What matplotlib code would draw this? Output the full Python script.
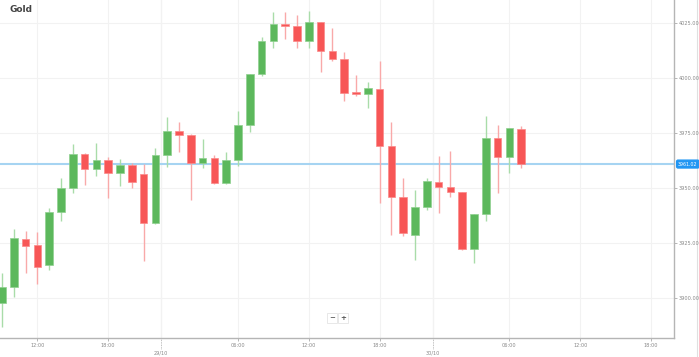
import numpy as np
import matplotlib.pyplot as plt
from matplotlib.transforms import blended_transform_factory

# hourly candles, Gold
opens = [3897.7, 3905.3, 3927.0, 3924.2, 3915.1, 3939.4, 3950.0, 3965.5, 3958.6, 3962.9,
         3957.1, 3960.5, 3956.4, 3934.4, 3965.1, 3976.2, 3974.1, 3961.4, 3963.9, 3952.3,
         3962.9, 3978.6, 4002.0, 4017.1, 4024.5, 4023.8, 4017.0, 4025.7, 4012.5, 4008.6,
         3993.5, 3992.7, 3995.1, 3969.4, 3945.9, 3928.9, 3941.6, 3953.0, 3950.5, 3948.4,
         3922.4, 3938.3, 3973.0, 3964.1, 3977.0]
highs = [3911.5, 3931.5, 3930.6, 3930.3, 3940.9, 3954.5, 3970.0, 3965.9, 3970.7, 3964.4,
         3963.2, 3961.4, 3961.0, 3968.5, 3982.5, 3980.1, 3974.7, 3972.4, 3965.1, 3966.6,
         3985.3, 4002.0, 4018.9, 4030.0, 4030.0, 4028.8, 4030.6, 4025.7, 4022.7, 4012.1,
         4001.5, 3998.5, 4007.9, 3980.0, 3954.8, 3949.2, 3954.5, 3964.8, 3967.0, 3948.4,
         3938.3, 3982.9, 3978.8, 3977.3, 3978.3]
lows = [3887.0, 3900.7, 3911.6, 3906.5, 3912.9, 3935.3, 3947.7, 3951.5, 3955.7, 3945.7,
        3951.2, 3950.0, 3917.0, 3934.0, 3959.5, 3966.6, 3944.7, 3959.1, 3952.0, 3952.0,
        3960.3, 3975.7, 4001.0, 4013.9, 4017.7, 4013.9, 4013.9, 4003.0, 4007.9, 3989.8,
        3992.0, 3986.4, 3943.5, 3928.8, 3928.3, 3917.4, 3940.1, 3938.6, 3945.9, 3922.0,
        3915.9, 3935.3, 3947.7, 3957.1, 3959.2]
closes = [3905.3, 3927.3, 3923.9, 3914.2, 3939.4, 3950.0, 3965.5, 3958.6, 3962.9, 3957.1,
          3960.5, 3952.9, 3934.4, 3965.1, 3976.2, 3974.1, 3961.4, 3963.9, 3952.3, 3962.9,
          3978.6, 4002.0, 4017.1, 4024.5, 4023.6, 4017.0, 4025.7, 4012.5, 4008.6, 3993.2,
          3993.0, 3995.5, 3969.4, 3945.9, 3929.8, 3941.6, 3953.3, 3950.7, 3948.3, 3922.4,
          3938.3, 3973.0, 3964.1, 3977.3, 3961.02]

price_ticks = [3900, 3925, 3950, 3975, 4000, 4025]
time_ticks = [3, 9, 20, 26, 32, 43, 49, 55]
time_labels = ["12:00", "18:00", "06:00", "12:00", "18:00", "06:00", "12:00", "18:00"]
day_ticks = [13.5, 36.5]
day_labels = ["29/10", "30/10"]
last_price = closes[-1]

green, red = "#5cb85c", "#f75656"
green_w, red_w = "#a9dca9", "#f9a9a9"

fig = plt.figure(figsize=(6.99, 3.57), dpi=100)
fig.add_artist(plt.Line2D([697 / 699, 697 / 699], [0, 1], color="#e0e0e0", lw=0.8, zorder=0))
ax = fig.add_axes([0, 19 / 357, 674 / 699, 338 / 357])

x = np.arange(len(opens))
o = np.array(opens)
c = np.array(closes)
up = c >= o
body_lo = np.minimum(o, c)
body_h = np.maximum(np.abs(c - o), 0.6)

ax.vlines(x[up], np.array(lows)[up], np.array(highs)[up], color=green_w, lw=1, zorder=2)
ax.vlines(x[~up], np.array(lows)[~up], np.array(highs)[~up], color=red_w, lw=1, zorder=2)
ax.bar(x[up], body_h[up], bottom=body_lo[up], width=0.64, color=green,
       edgecolor="#8fd08f", lw=0.5, zorder=3)
ax.bar(x[~up], body_h[~up], bottom=body_lo[~up], width=0.64, color=red,
       edgecolor="#fb8a8a", lw=0.5, zorder=3)

# current price line and tag
ax.axhline(last_price, color="#a6d4f2", lw=1.5, zorder=1)
ax.text(1.006, last_price, f"{last_price:.2f}", transform=ax.get_yaxis_transform(),
        fontsize=3.4, color="white", va="center", ha="left",
        bbox=dict(boxstyle="round,pad=0.3,rounding_size=0.3", fc="#2196f3", ec="#2196f3"),
        clip_on=False, zorder=5)

ax.set_xlim(-0.17, 56.95)
ax.set_ylim(3881.95, 4035.6)

ax.yaxis.tick_right()
ax.set_yticks(price_ticks)
ax.set_yticklabels([f"{p:.2f}" for p in price_ticks])
ax.set_xticks(time_ticks + day_ticks)
ax.set_xticklabels(time_labels + day_labels)
ax.tick_params(axis="both", labelsize=3.6, labelcolor="#888888", color="#aaaaaa",
               length=2, width=0.6, pad=1.5)
for t in ax.xaxis.get_major_ticks()[len(time_ticks):]:
    t.set_pad(7)
    t.tick1line.set_visible(False)

trans = blended_transform_factory(ax.transData, ax.transAxes)
for d in day_ticks:
    ax.plot([d, d], [0, -0.032], ls=(0, (1, 1)), color="#aaaaaa", lw=0.6,
            transform=trans, clip_on=False)
    ax.axvline(d, color="#e6e6e6", lw=0.8, zorder=0)

ax.grid(True, color="#f2f2f2", lw=0.8, zorder=0)
ax.set_axisbelow(True)
for s in ["top", "left"]:
    ax.spines[s].set_visible(False)
for s in ["right", "bottom"]:
    ax.spines[s].set_color("#b5b5b5")
    ax.spines[s].set_linewidth(1.0)

fig.text(10 / 699, 1 - 10 / 357, "Gold", fontsize=6.5, fontweight="bold", color="#444444",
         va="center", ha="left")

# zoom buttons
for lbl, px in [("\u2212", 332), ("+", 343)]:
    fig.text(px / 699, 1 - 318 / 357, lbl, fontsize=5, fontweight="bold", color="#555555",
             ha="center", va="center",
             bbox=dict(boxstyle="square,pad=0.3", fc="white", ec="#e4e4e4", lw=0.6))

fig.savefig("out.png", dpi=100, facecolor="white")
